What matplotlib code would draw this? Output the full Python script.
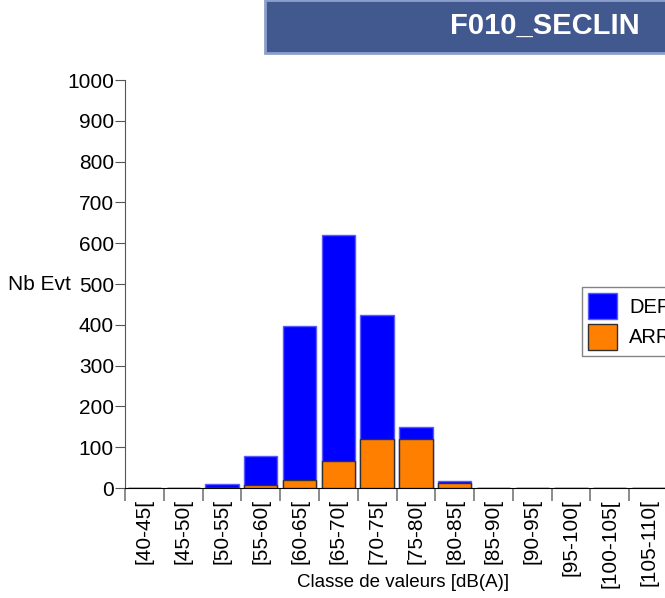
import matplotlib.pyplot as plt
from matplotlib.patches import Rectangle
import numpy as np

plt.rcParams['font.family'] = ['Liberation Sans', 'DejaVu Sans']

classes = ['[40-45[', '[45-50[', '[50-55[', '[55-60[', '[60-65[', '[65-70[', '[70-75[',
           '[75-80[', '[80-85[', '[85-90[', '[90-95[', '[95-100[', '[100-105[', '[105-110[']
dep = [0, 0, 10, 78, 398, 620, 424, 150, 18, 0, 0, 0, 0, 0]
arr = [0, 0, 0, 7, 20, 66, 120, 120, 12, 0, 0, 0, 0, 0]

fig = plt.figure(figsize=(6.65, 5.98), dpi=100)
ax = fig.add_axes([125 / 665, 1 - 488 / 598, 543 / 665, 408 / 598])

x = np.arange(len(classes))
ax.bar(x, dep, width=0.86, color='#0000ff', edgecolor='#5a5aff', linewidth=1, label='DEP', zorder=2)
ax.bar(x, arr, width=0.86, color='#ff8000', edgecolor='#303030', linewidth=1, label='ARR', zorder=3)

ax.set_xlim(-0.5, len(classes) - 0.5)
ax.set_ylim(0, 1000)
ax.set_yticks(np.arange(0, 1001, 100))
ax.tick_params(axis='y', labelsize=15, length=7, color='#555555', pad=1)

# boundaries as major ticks, labels on minor ticks
ax.set_xticks(np.arange(-0.5, len(classes), 1))
ax.set_xticklabels([])
ax.tick_params(axis='x', which='major', length=9, color='#777777', width=1.2)
ax.set_xticks(x, minor=True)
ax.set_xticklabels(classes, minor=True, rotation=90, fontsize=15)
ax.tick_params(axis='x', which='minor', length=0, pad=8)

for s in ['top', 'right']:
    ax.spines[s].set_visible(False)
ax.spines['left'].set_color('#555555')
ax.spines['left'].set_bounds(0, 1000)
ax.spines['bottom'].set_color('#000000')

ax.set_ylabel('Nb Evt', rotation=0, fontsize=15, ha='right', va='center')
ax.yaxis.set_label_coords(-0.1, 0.5)
ax.set_xlabel('Classe de valeurs [dB(A)]', fontsize=13.5)
ax.xaxis.set_label_coords(0.513, -0.21)

leg = ax.legend(loc='upper left', bbox_to_anchor=(582 / 665, 1 - 287 / 598),
                bbox_transform=fig.transFigure, fontsize=14.5, frameon=True, fancybox=False,
                handlelength=1.45, handleheight=1.6, borderpad=0.3, labelspacing=0.25,
                handletextpad=0.6, borderaxespad=0)
leg.get_frame().set_edgecolor('#666666')
leg.get_frame().set_linewidth(1)

# title banner
fig.patches.append(Rectangle((265 / 665, 1 - 53 / 598), 1, 53 / 598, transform=fig.transFigure,
                             facecolor='#42598f', edgecolor='#8da0cc', linewidth=2))
fig.text(640 / 665, 1 - 26 / 598, 'F010_SECLIN', color='white', fontsize=21, fontweight='bold',
         ha='right', va='center')

fig.savefig('out.png', dpi=100)
